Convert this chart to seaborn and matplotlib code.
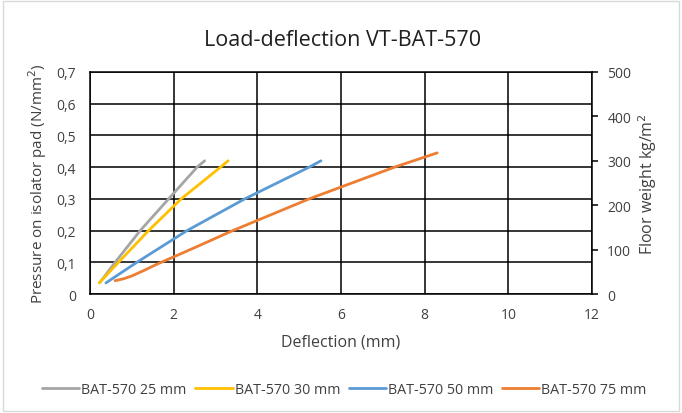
import matplotlib
matplotlib.use("Agg")
import matplotlib.pyplot as plt
import matplotlib.ticker as mticker
import seaborn as sns
import pandas as pd

sns.set_theme(style="white")
plt.rcParams['font.family'] = ['Open Sans', 'DejaVu Sans']

series_names = ["BAT-570 25 mm", "BAT-570 30 mm", "BAT-570 50 mm", "BAT-570 75 mm"]
colors = ["#A5A5A5", "#FFC000", "#5B9BD5", "#ED7D31"]

defl_25 = [0.24, 0.60, 1.20, 1.88, 2.56, 2.74]
load_25 = [0.037, 0.10, 0.20, 0.30, 0.40, 0.42]
defl_30 = [0.22, 0.68, 1.40, 2.18, 3.12, 3.30]
load_30 = [0.035, 0.10, 0.20, 0.30, 0.40, 0.42]
defl_50 = [0.38, 1.12, 2.32, 3.70, 5.24, 5.52]
load_50 = [0.035, 0.10, 0.20, 0.30, 0.40, 0.42]
defl_75 = [0.60, 0.80, 1.00, 1.30, 1.60, 2.00, 2.60, 3.36, 5.24, 7.28, 8.30]
load_75 = [0.042, 0.048, 0.057, 0.075, 0.094, 0.117, 0.152, 0.197, 0.30, 0.40, 0.445]

x_ticks = [0, 2, 4, 6, 8, 10, 12]
y_ticks = [0, 0.1, 0.2, 0.3, 0.4, 0.5, 0.6, 0.7]
y2_ticks = [0, 100, 200, 300, 400, 500]

frames = []
for name, xs, ys in zip(series_names,
                        [defl_25, defl_30, defl_50, defl_75],
                        [load_25, load_30, load_50, load_75]):
    frames.append(pd.DataFrame({"Deflection": xs, "Pressure": ys, "Series": name}))
df = pd.concat(frames, ignore_index=True)

fig = plt.figure(figsize=(6.82, 4.14), dpi=100)
ax = fig.add_axes([0.132, 0.2874, 0.736, 0.5363])

sns.lineplot(data=df, x="Deflection", y="Pressure", hue="Series", hue_order=series_names,
             palette=colors, sort=False, linewidth=2.0, ax=ax, estimator=None, units="Series")

tcol = "#404040"
ax.set_xlim(0, 12)
ax.set_ylim(0, 0.7)
ax.set_xticks(x_ticks)
ax.set_yticks(y_ticks)
ax.yaxis.set_major_formatter(mticker.FuncFormatter(
    lambda v, p: "0" if abs(v) < 1e-9 else f"{v:.1f}".replace(".", ",")))
ax.grid(True, color="black", linewidth=1.1)
for s in ax.spines.values():
    s.set_color("black")
    s.set_linewidth(1.1)
ax.tick_params(axis="x", length=0, labelsize=10, colors=tcol, pad=9)
ax.tick_params(axis="y", length=0, labelsize=10, colors=tcol, pad=10)
ax.set_xlabel("Deflection (mm)", fontsize=11.5, color=tcol, va="center")
ax.xaxis.set_label_coords(0.5, (295 - 342) / 222)
ax.set_ylabel("Pressure on isolator pad (N/mm$^2$)", fontsize=11, color=tcol, va="center")
ax.yaxis.set_label_coords((38 - 90) / 502, 0.5)

ax2 = ax.twinx()
ax2.set_ylim(0, 500)
ax2.set_yticks(y2_ticks)
ax2.tick_params(axis="y", length=4, width=1.1, direction="out", labelsize=10,
                labelcolor=tcol, color="black", pad=7)
for s in ax2.spines.values():
    s.set_visible(False)
ax2.set_ylabel("Floor weight kg/m$^2$", fontsize=11.5, color=tcol, va="center")
ax2.yaxis.set_label_coords((648 - 90) / 502, 0.5)
ax2.grid(False)

fig.suptitle("Load-deflection VT-BAT-570", fontsize=15.5, color="#202020",
             x=0.503, y=1 - 40 / 414, va="center")

handles, labels = ax.get_legend_handles_labels()
ax.get_legend().remove()
fig.legend(handles, labels, loc="center", bbox_to_anchor=(0.505, 1 - 391 / 414), ncol=4,
           frameon=False, fontsize=10.3, handlelength=2.6, handletextpad=0.15,
           columnspacing=0.6, labelcolor=tcol)

fig.patches.append(plt.Rectangle((0.004, 0.004), 0.992, 0.992, transform=fig.transFigure,
                                 fill=False, edgecolor="#D9D9D9", linewidth=1.0))

fig.savefig("out.png", dpi=100)
